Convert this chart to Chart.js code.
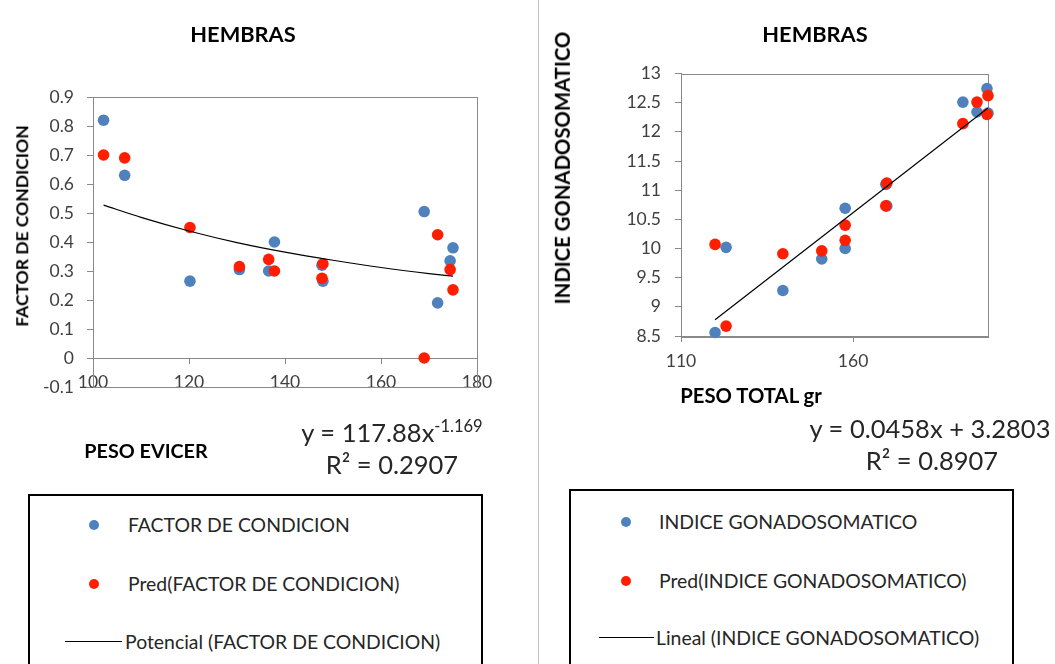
<!DOCTYPE html>
<html>
<head>
<meta charset="utf-8">
<script src="https://cdn.jsdelivr.net/npm/chart.js@4.4.1/dist/chart.umd.min.js"></script>
<style>
  html, body { margin: 0; padding: 0; background: #fff; }
  body { width: 1055px; height: 664px; position: relative; overflow: hidden; font-family: Lato, "Open Sans", sans-serif; color: #262626; }
  canvas { position: absolute; top: 0; }
  .txt { position: absolute; white-space: nowrap; line-height: 1; transform: translate(-50%, -50%); }
  .title { font-weight: bold; font-size: 21.8px; color: #000; }
  .axtitle { font-weight: bold; color: #000; }
  .vtitle { transform: translate(-50%, -50%) rotate(-90deg); }
  .eq { font-size: 25.5px; color: #262626; }
  .eq sup { position: relative; top: -10px; font-size: 16.5px; vertical-align: baseline; }
  .divider { position: absolute; left: 538px; top: 0; width: 1px; height: 664px; background: #c0c0c0; }
  .legend { position: absolute; border: 2px solid #000; background: #fff; height: 220px; }
  .item { position: absolute; white-space: nowrap; font-size: 19.4px; line-height: 1; color: #262626; transform: translateY(-50%); }
  .dot { position: absolute; width: 10px; height: 10px; border-radius: 50%; transform: translate(-50%, -50%); }
  .lline { position: absolute; height: 0; border-top: 1.5px solid #000; }
</style>
</head>
<body>
<canvas id="izq" width="539" height="664" style="left:0"></canvas>
<canvas id="der" width="516" height="664" style="left:539px"></canvas>
<div class="divider"></div>

<div class="txt title" style="left:243px; top:34px">HEMBRAS</div>
<div class="txt title" style="left:815px; top:34px">HEMBRAS</div>
<div class="txt axtitle vtitle" style="left:22px; top:226px; font-size:17.5px">FACTOR DE CONDICION</div>
<div class="txt axtitle vtitle" style="left:562px; top:168px; font-size:20.3px">INDICE GONADOSOMATICO</div>
<div class="txt axtitle" style="left:146px; top:451px; font-size:19.8px">PESO EVICER</div>
<div class="txt axtitle" style="left:751px; top:395px; font-size:20.3px">PESO TOTAL gr</div>

<div class="txt eq" style="left:392px; top:433px">y = 117.88x<sup>-1.169</sup></div>
<div class="txt eq" style="left:392px; top:465px">R² = 0.2907</div>
<div class="txt eq" style="left:930px; top:429px">y = 0.0458x + 3.2803</div>
<div class="txt eq" style="left:932px; top:461px">R² = 0.8907</div>

<div class="legend" style="left:28px; top:494px; width:451px"></div>
<div class="dot" style="left:94px; top:525px; background:#4F81BD"></div>
<div class="item" style="left:128px; top:525px">FACTOR DE CONDICION</div>
<div class="dot" style="left:94px; top:584px; background:#FF1E00"></div>
<div class="item" style="left:128px; top:584px">Pred(FACTOR DE CONDICION)</div>
<div class="lline" style="left:65px; top:641px; width:57px"></div>
<div class="item" style="left:125px; top:642px">Potencial (FACTOR DE CONDICION)</div>

<div class="legend" style="left:569px; top:489px; width:441px"></div>
<div class="dot" style="left:626px; top:522px; background:#4F81BD"></div>
<div class="item" style="left:659px; top:522px">INDICE GONADOSOMATICO</div>
<div class="dot" style="left:626px; top:581px; background:#FF1E00"></div>
<div class="item" style="left:659px; top:581px">Pred(INDICE GONADOSOMATICO)</div>
<div class="lline" style="left:599px; top:637px; width:55px"></div>
<div class="item" style="left:656px; top:638px">Lineal (INDICE GONADOSOMATICO)</div>

<script>
// --- FACTOR DE CONDICION vs PESO EVICER ---
const pesoEvicer = [102.2, 106.6, 120.2, 130.5, 136.6, 137.8, 147.7, 147.9, 169.0, 171.8, 174.4, 175.0];
const factorCondicion = [0.82, 0.63, 0.265, 0.305, 0.30, 0.40, 0.32, 0.265, 0.505, 0.19, 0.335, 0.38];
const predFactor = [0.70, 0.69, 0.45, 0.315, 0.34, 0.30, 0.275, 0.325, 0.0, 0.425, 0.305, 0.235];
// potential trendline
const potencialX = [102.2, 110, 120, 130, 140, 150, 160, 170, 175];
const potencialY = [0.527, 0.485, 0.438, 0.398, 0.365, 0.337, 0.312, 0.291, 0.282];
const xTicksEvicer = [100, 120, 140, 160, 180];
const yTicksFactor = [-0.1, 0, 0.1, 0.2, 0.3, 0.4, 0.5, 0.6, 0.7, 0.8, 0.9];

// --- INDICE GONADOSOMATICO vs PESO TOTAL ---
const pesoTotal = [119.9, 123.1, 139.6, 150.9, 157.7, 157.7, 169.5, 169.8, 191.9, 196.0, 198.9, 199.2];
const indiceGonado = [8.56, 10.02, 9.28, 9.82, 10.69, 10.0, 11.10, 10.73, 12.51, 12.34, 12.74, 12.32];
const predIndice = [10.07, 8.67, 9.91, 9.96, 10.40, 10.14, 10.73, 11.12, 12.14, 12.51, 12.30, 12.62];
const linealX = [119.9, 199.2];
const linealY = [8.78, 12.41];
const xTicksTotal = [110, 160];
const yTicksIndice = [8.5, 9, 9.5, 10, 10.5, 11, 11.5, 12, 12.5, 13];

const AZUL = "#4F81BD";
const ROJO = "#FF1E00";
const GRIS = "#898989";
const tickFont = { family: "Lato", size: 17.5 };

const pairs = (xs, ys) => xs.map((x, i) => ({ x: x, y: ys[i] }));
const fixedTicks = list => scale => { scale.ticks = list.map(v => ({ value: v })); };

const plotBorder = {
    id: "plotBorder",
    beforeDatasetsDraw(chart) {
        const a = chart.chartArea;
        const ctx = chart.ctx;
        ctx.save();
        ctx.strokeStyle = GRIS;
        ctx.lineWidth = 1;
        ctx.strokeRect(Math.round(a.left) + 0.5, Math.round(a.top) + 0.5,
            Math.round(a.right - a.left), Math.round(a.bottom - a.top));
        ctx.restore();
    }
};

function scatterSets(xs, blue, red, tx, ty, curved) {
    return [
        {
            type: "line",
            data: pairs(tx, ty),
            borderColor: "#000",
            borderWidth: 1.2,
            pointRadius: 0,
            showLine: true,
            fill: false,
            cubicInterpolationMode: curved ? "monotone" : "default",
            order: 0
        },
        {
            data: pairs(xs, red),
            backgroundColor: ROJO,
            borderWidth: 0,
            pointRadius: 5.8,
            clip: false,
            order: 1
        },
        {
            data: pairs(xs, blue),
            backgroundColor: AZUL,
            borderWidth: 0,
            pointRadius: 5.8,
            clip: false,
            order: 2
        }
    ];
}

new Chart(document.getElementById("izq"), {
    type: "scatter",
    data: { datasets: scatterSets(pesoEvicer, factorCondicion, predFactor, potencialX, potencialY, true) },
    options: {
        responsive: false,
        animation: false,
        devicePixelRatio: 1,
        layout: { padding: { left: 0, right: 62, top: 97, bottom: 277 } },
        plugins: { legend: { display: false }, tooltip: { enabled: false } },
        scales: {
            x: {
                type: "linear",
                min: 100,
                max: 180,
                position: { y: 0 },
                afterBuildTicks: fixedTicks(xTicksEvicer),
                grid: { drawOnChartArea: false, tickLength: 5, color: GRIS },
                border: { display: true, color: GRIS },
                ticks: { font: tickFont, color: "#404040", padding: 9, maxRotation: 0, callback: v => String(v) }
            },
            y: {
                type: "linear",
                min: -0.1,
                max: 0.9,
                afterBuildTicks: fixedTicks(yTicksFactor),
                afterFit: scale => { scale.width = 93; },
                grid: { drawOnChartArea: false, tickLength: 6, color: GRIS },
                border: { display: true, color: GRIS },
                ticks: { font: tickFont, color: "#404040", padding: 13, callback: v => String(Math.round(v * 10) / 10) }
            }
        }
    },
    plugins: [plotBorder]
});

new Chart(document.getElementById("der"), {
    type: "scatter",
    data: { datasets: scatterSets(pesoTotal, indiceGonado, predIndice, linealX, linealY, false) },
    options: {
        responsive: false,
        animation: false,
        devicePixelRatio: 1,
        layout: { padding: { left: 0, right: 67, top: 73.5, bottom: 288 } },
        plugins: { legend: { display: false }, tooltip: { enabled: false } },
        scales: {
            x: {
                type: "linear",
                min: 110,
                max: 199.2,
                afterBuildTicks: fixedTicks(xTicksTotal),
                afterFit: scale => { scale.height = 40; },
                grid: { drawOnChartArea: false, tickLength: 6, color: GRIS },
                border: { display: true, color: GRIS },
                ticks: { font: tickFont, color: "#404040", padding: 9, maxRotation: 0, callback: v => String(v) }
            },
            y: {
                type: "linear",
                min: 8.5,
                max: 13,
                afterBuildTicks: fixedTicks(yTicksIndice),
                afterFit: scale => { scale.width = 142; },
                grid: { drawOnChartArea: false, tickLength: 6, color: GRIS },
                border: { display: true, color: GRIS },
                ticks: { font: tickFont, color: "#404040", padding: 14, callback: v => String(v) }
            }
        }
    },
    plugins: [plotBorder]
});
</script>
</body>
</html>
